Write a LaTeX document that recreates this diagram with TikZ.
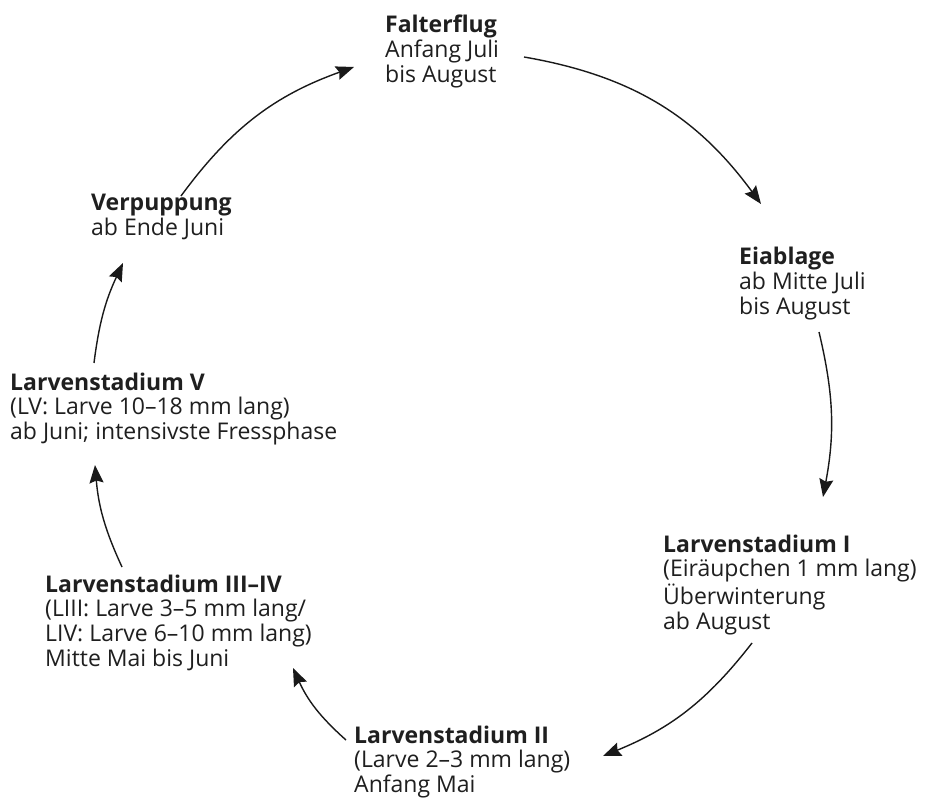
\documentclass[tikz,border=0pt]{standalone}
\usepackage{fontspec}
\setmainfont{Open Sans}
\usetikzlibrary{arrows.meta}
\newcommand{\stg}[2]{\begin{tabular}[t]{@{}l@{}}\textbf{#1}\\#2\end{tabular}}
\begin{document}
\begin{tikzpicture}[x=1pt,y=-1pt,
  stage/.style={anchor=base west,inner sep=0pt,font=\fontsize{23}{24.2}\selectfont,text=black!88},
  cyc/.style={line width=1.4pt,draw=black!90,-{Stealth[length=18pt,width=14pt,inset=2.5pt]}}]
\useasboundingbox[fill=white] (0,0) rectangle (926,799);
% stages
\node[stage] (falter) at (385,33) {\stg{Falterflug}{Anfang Juli\\bis August}};
\node[stage] (eiab) at (739,265) {\stg{Eiablage}{ab Mitte Juli\\bis August}};
\node[stage] (lone) at (663,552) {\stg{Larvenstadium I}{(Eiräupchen 1 mm lang)\\Überwinterung\\ab August}};
\node[stage] (ltwo) at (354,743) {\stg{Larvenstadium II}{(Larve 2–3 mm lang)\\Anfang Mai}};
\node[stage] (lthree) at (45,592) {\stg{Larvenstadium III–IV}{(LIII: Larve 3–5 mm lang/\\LIV: Larve 6–10 mm lang)\\Mitte Mai bis Juni}};
\node[stage] (lfive) at (10,390) {\stg{Larvenstadium V}{(LV: Larve 10–18 mm lang)\\ab Juni; intensivste Fressphase}};
\node[stage] (pupa) at (91,211) {\stg{Verpuppung}{ab Ende Juni}};
% connector ends
\coordinate (a1s) at (524,57);  \coordinate (a1e) at (761,204);
\coordinate (a2s) at (819,332); \coordinate (a2e) at (823,497);
\coordinate (a3s) at (752,643); \coordinate (a3e) at (603,756);
\coordinate (a4s) at (346,740); \coordinate (a4e) at (293,668);
\coordinate (a5s) at (122,567); \coordinate (a5e) at (95,465);
\coordinate (a6s) at (94,363);  \coordinate (a6e) at (123,263);
\coordinate (a7s) at (181,196); \coordinate (a7e) at (354,67);
% connectors
\draw[cyc] (a1s) to[bend left=22] (a1e);
\draw[cyc] (a2s) to[bend left=12] (a2e);
\draw[cyc] (a3s) to[bend left=15] (a3e);
\draw[cyc] (a4s) to[bend left=12] (a4e);
\draw[cyc] (a5s) to[bend left=10] (a5e);
\draw[cyc] (a6s) to[bend left=9] (a6e);
\draw[cyc] (a7s) to[bend left=17] (a7e);
\end{tikzpicture}
\end{document}
